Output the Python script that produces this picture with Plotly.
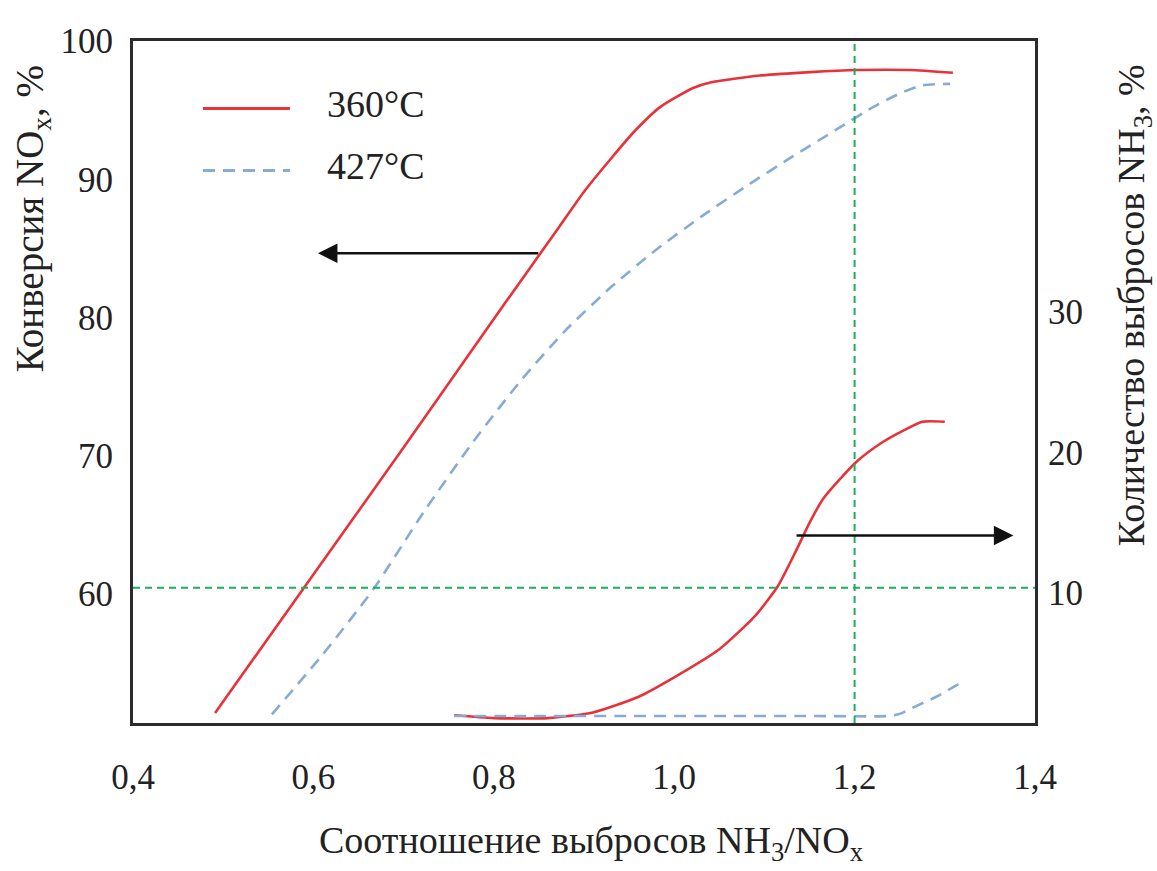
import plotly.graph_objects as go

# ---------------- data ----------------
x_tick_vals = [0.4, 0.6, 0.8, 1.0, 1.2, 1.4]
x_tick_text = ["0,4", "0,6", "0,8", "1,0", "1,2", "1,4"]
y_left_ticks = [60, 70, 80, 90, 100]
y_right_ticks = [10, 20, 30]

conv_360_x = [0.491, 0.588, 0.70, 0.80, 0.873, 0.90, 0.93, 0.955, 0.984, 1.021, 1.040, 1.095, 1.151, 1.203, 1.261, 1.309]
conv_360_y = [51.4, 60.3, 70.6, 79.9, 86.6, 89.1, 91.5, 93.4, 95.2, 96.6, 97.0, 97.5, 97.75, 97.9, 97.9, 97.7]

conv_427_x = [0.554, 0.61, 0.666, 0.722, 0.777, 0.832, 0.88, 0.93, 0.98, 1.03, 1.08, 1.13, 1.18, 1.22, 1.25, 1.275, 1.306]
conv_427_y = [51.3, 55.6, 60.3, 65.9, 71.0, 75.6, 79.1, 82.2, 84.9, 87.3, 89.5, 91.6, 93.6, 95.2, 96.2, 96.8, 96.9]

slip_360_x = [0.756, 0.80, 0.86, 0.91, 0.96, 1.00, 1.05, 1.09, 1.115, 1.135, 1.15, 1.165, 1.185, 1.203, 1.23, 1.255, 1.275, 1.30]
slip_360_y = [1.3, 1.1, 1.1, 1.5, 2.6, 4.0, 6.0, 8.4, 10.5, 13.0, 15.0, 16.7, 18.2, 19.4, 20.7, 21.6, 22.2, 22.2]

slip_427_x = [0.756, 0.85, 0.95, 1.05, 1.15, 1.238, 1.25, 1.263, 1.29, 1.320]
slip_427_y = [1.25, 1.25, 1.25, 1.25, 1.25, 1.25, 1.4, 1.8, 2.6, 3.7]

ref_ratio = 1.2          # vertical green guide (x)
ref_conv = 60.45         # horizontal green guide (left axis)

arrow_left = dict(x_from=0.851, x_to=0.605, y=84.65)    # points to left axis
arrow_right = dict(x_from=1.134, x_to=1.376, y=14.1)    # points to right axis

series_names = ["360°C", "427°C"]

# ---------------- style ----------------
RED = "#e8323a"
BLUE = "#86acd6"
GREEN = "#1fae5a"
FRAME = "#2b2b2b"
FONT = "Liberation Serif"
TXT = "#222222"
SM = 0.6

fig = go.Figure()
fig.add_trace(go.Scatter(x=conv_360_x, y=conv_360_y, mode="lines", line=dict(color=RED, width=2.6, shape="spline", smoothing=SM), showlegend=False))
fig.add_trace(go.Scatter(x=conv_427_x, y=conv_427_y, mode="lines", line=dict(color=BLUE, width=2.6, dash="12px,8px", shape="spline", smoothing=SM), showlegend=False))
fig.add_trace(go.Scatter(x=slip_360_x, y=slip_360_y, mode="lines", yaxis="y2", line=dict(color=RED, width=2.6, shape="spline", smoothing=SM), showlegend=False))
fig.add_trace(go.Scatter(x=slip_427_x, y=slip_427_y, mode="lines", yaxis="y2", line=dict(color=BLUE, width=2.6, dash="12px,8px", shape="spline", smoothing=SM), showlegend=False))

# green guides
fig.add_shape(type="line", xref="x", yref="paper", x0=ref_ratio, x1=ref_ratio, y0=0, y1=1,
              line=dict(color=GREEN, width=2, dash="7px,5px"))
fig.add_shape(type="line", xref="paper", yref="y", x0=0, x1=1, y0=ref_conv, y1=ref_conv,
              line=dict(color=GREEN, width=2, dash="7px,5px"))

# legend (custom)
leg_x0, leg_x1, leg_tx = 0.0776, 0.174, 0.213
leg_y = [0.901, 0.810]
fig.add_shape(type="line", xref="paper", yref="paper", x0=leg_x0, x1=leg_x1, y0=leg_y[0], y1=leg_y[0],
              line=dict(color=RED, width=3))
fig.add_shape(type="line", xref="paper", yref="paper", x0=leg_x0, x1=leg_x1, y0=leg_y[1], y1=leg_y[1],
              line=dict(color=BLUE, width=3, dash="12px,8px"))
for name, yy in zip(series_names, leg_y):
    fig.add_annotation(x=leg_tx, y=yy + 0.006, xref="paper", yref="paper", text=name, showarrow=False,
                       xanchor="left", yanchor="middle", font=dict(family=FONT, size=38, color=TXT))

# arrows
fig.add_annotation(x=arrow_left["x_to"], y=arrow_left["y"], ax=arrow_left["x_from"], ay=arrow_left["y"],
                   xref="x", yref="y", axref="x", ayref="y", text="", showarrow=True,
                   arrowhead=2, arrowsize=1.5, arrowwidth=2.6, arrowcolor="#111111")
fig.add_annotation(x=arrow_right["x_to"], y=arrow_right["y"], ax=arrow_right["x_from"], ay=arrow_right["y"],
                   xref="x", yref="y2", axref="x", ayref="y2", text="", showarrow=True,
                   arrowhead=2, arrowsize=1.5, arrowwidth=2.6, arrowcolor="#111111")

# axis titles
fig.add_annotation(x=-0.112, y=0.740, xref="paper", yref="paper", text="Конверсия NO<sub>x</sub>, %",
                   textangle=-90, showarrow=False, xanchor="center", yanchor="middle",
                   font=dict(family=FONT, size=39, color=TXT))
fig.add_annotation(x=1.110, y=0.613, xref="paper", yref="paper", text="Количество выбросов NH<sub>3</sub>, %",
                   textangle=-90, showarrow=False, xanchor="center", yanchor="middle",
                   font=dict(family=FONT, size=38, color=TXT))
fig.add_annotation(x=0.508, y=-0.176, xref="paper", yref="paper", text="Соотношение выбросов NH<sub>3</sub>/NO<sub>x</sub>",
                   showarrow=False, xanchor="center", yanchor="middle",
                   font=dict(family=FONT, size=38, color=TXT))

fig.update_layout(
    width=1157, height=871,
    margin=dict(l=133, r=122, t=41, b=148),
    paper_bgcolor="white", plot_bgcolor="white",
    font=dict(family=FONT, size=34, color=TXT),
    xaxis=dict(range=[0.4, 1.4], tickvals=x_tick_vals, ticktext=x_tick_text, showgrid=False, zeroline=False,
               showline=True, mirror=True, linecolor=FRAME, linewidth=3, ticks="", ticklabelstandoff=21,
               tickfont=dict(family=FONT, size=35, color=TXT)),
    yaxis=dict(range=[50.67, 100], tickvals=y_left_ticks, showgrid=False, zeroline=False,
               showline=True, mirror=True, linecolor=FRAME, linewidth=3, ticks="", ticklabelstandoff=10,
               tickfont=dict(family=FONT, size=35, color=TXT)),
    yaxis2=dict(range=[0.75, 49.3], tickvals=y_right_ticks, overlaying="y", side="right", showgrid=False,
                zeroline=False, showline=False, ticks="", ticklabelstandoff=12,
                tickfont=dict(family=FONT, size=35, color=TXT)),
    showlegend=False,
)

fig.write_html("out.html", config={"displayModeBar": False},
               post_script="document.body.style.margin='0';document.body.style.padding='0';")
